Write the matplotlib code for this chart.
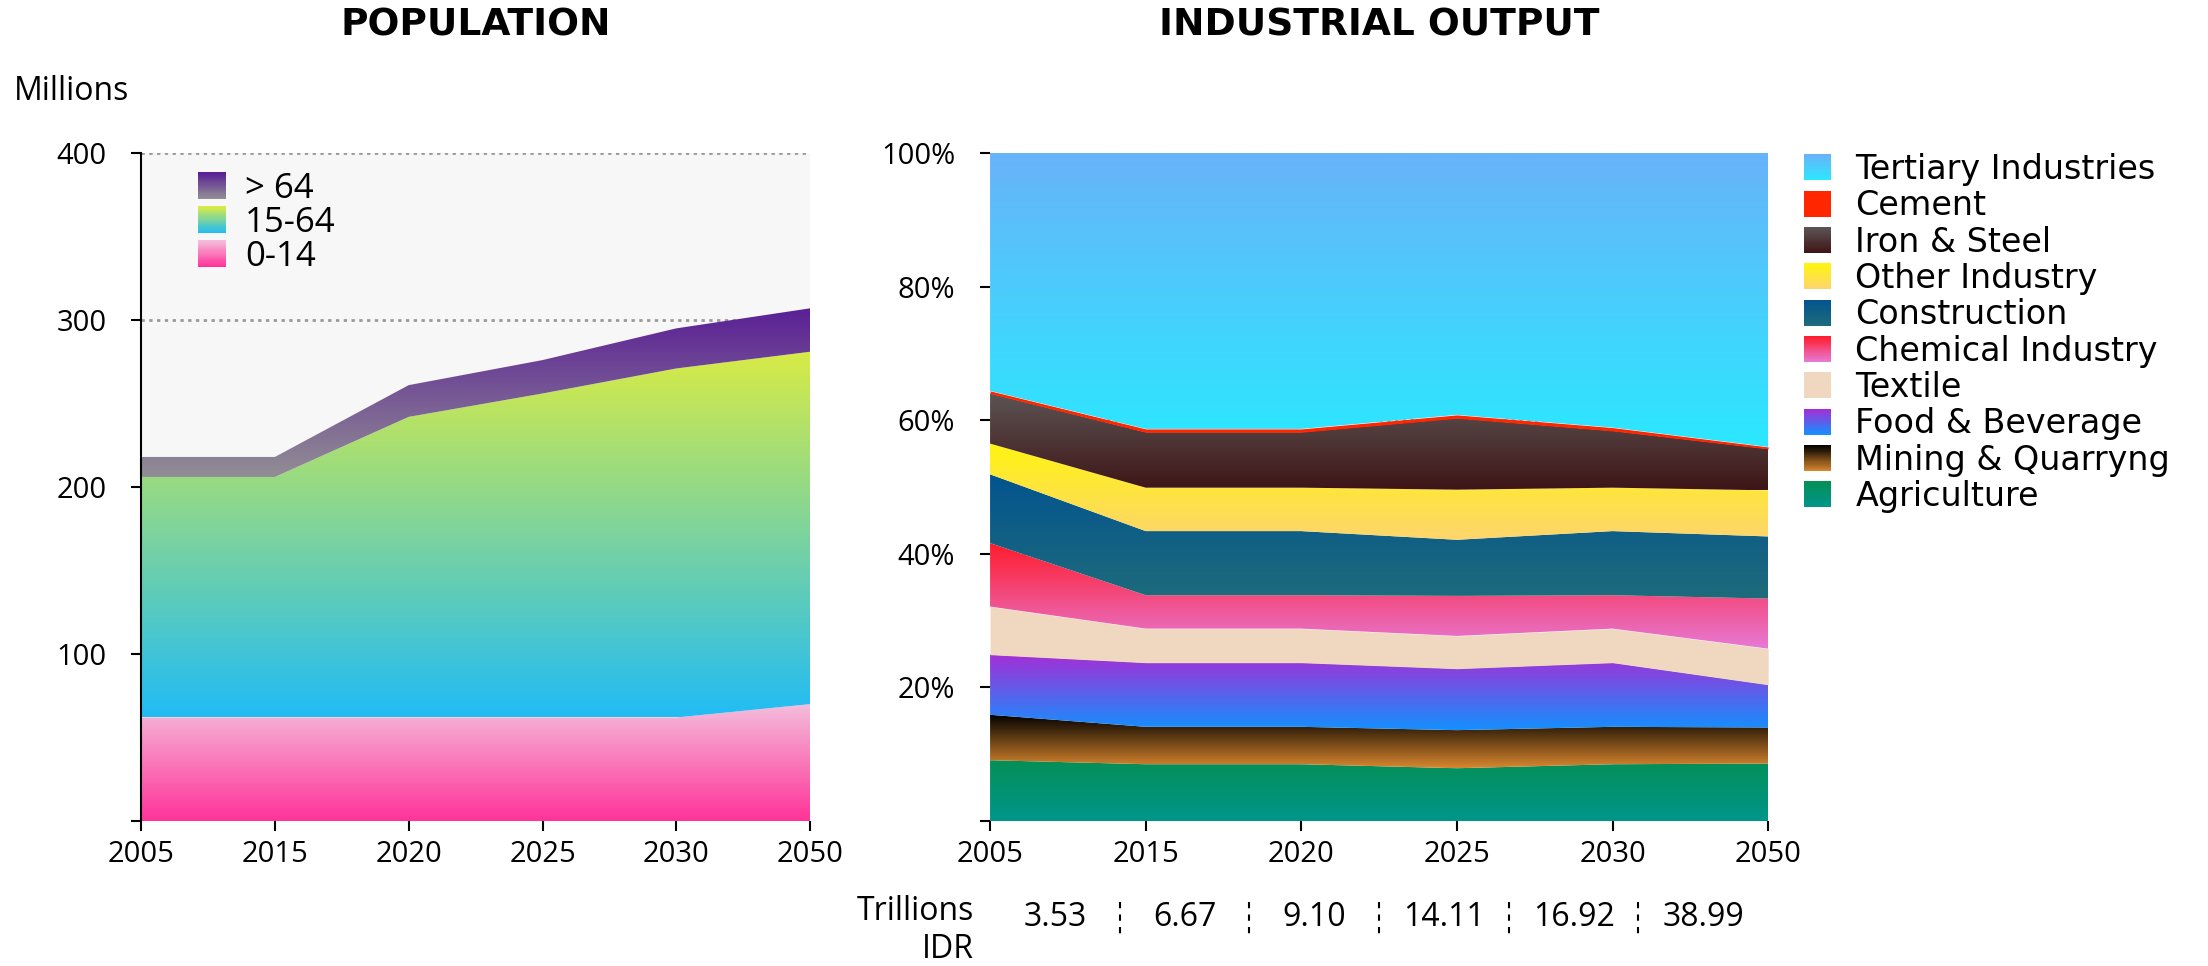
import numpy as np
import matplotlib.pyplot as plt
from matplotlib.colors import LinearSegmentedColormap
from matplotlib.legend_handler import HandlerBase
from matplotlib.patches import Patch, Rectangle

plt.rcParams['font.family'] = ['Open Sans', 'DejaVu Sans']
WIDE = ['DejaVu Sans']

# --- data ---
years = ['2005', '2015', '2020', '2025', '2030', '2050']

# population, millions
pop_0_14 = [62, 62, 62, 62, 62, 70]
pop_15_64 = [144, 144, 180, 194, 209, 211]
pop_65 = [12, 12, 19, 20, 24, 26]

# industrial output shares, % (stacked bottom -> top)
agriculture = [9.1, 8.5, 8.5, 7.9, 8.5, 8.6]
mining = [6.8, 5.6, 5.6, 5.7, 5.6, 5.4]
food = [9.0, 9.6, 9.6, 9.2, 9.6, 6.4]
textile = [7.2, 5.1, 5.1, 4.9, 5.1, 5.4]
chemical = [9.5, 5.0, 5.0, 6.0, 5.0, 7.5]
construction = [10.3, 9.6, 9.6, 8.4, 9.6, 9.3]
other_industry = [4.6, 6.5, 6.5, 7.5, 6.5, 6.9]
iron_steel = [7.5, 8.3, 8.3, 10.7, 8.5, 6.2]
cement = [0.4, 0.5, 0.5, 0.5, 0.5, 0.3]
tertiary = [35.6, 41.3, 41.3, 39.2, 41.1, 44.0]

idr_values = ['3.53', '6.67', '9.10', '14.11', '16.92', '38.99']


class GradientHandler(HandlerBase):
    def __init__(self, top, bottom, steps=24):
        super().__init__()
        self.cmap = LinearSegmentedColormap.from_list('g', [bottom, top])
        self.steps = steps

    def create_artists(self, legend, orig_handle, xdescent, ydescent,
                       width, height, fontsize, trans):
        h = height / self.steps
        out = []
        for i in range(self.steps):
            out.append(Rectangle((-xdescent, -ydescent + i * h), width, h * 1.05,
                                 facecolor=self.cmap(i / (self.steps - 1)),
                                 edgecolor='none', transform=trans))
        return out


def gradient_fill(ax, x, lower, upper, top, bottom, z=2):
    poly = ax.fill_between(x, lower, upper, facecolor='none', edgecolor='none')
    cmap = LinearSegmentedColormap.from_list('g', [bottom, top])
    grad = np.linspace(1, 0, 256).reshape(-1, 1)
    im = ax.imshow(grad, cmap=cmap, aspect='auto', origin='upper',
                   extent=[x[0], x[-1], lower.min(), upper.max()],
                   zorder=z, interpolation='bilinear')
    im.set_clip_path(poly.get_paths()[0], transform=ax.transData)


def style_axis(ax):
    for s in ['top', 'right', 'bottom']:
        ax.spines[s].set_visible(False)
    ax.spines['left'].set_linewidth(1.5)
    ax.tick_params(axis='both', length=7, width=1.5, labelsize=21, color='black')
    ax.tick_params(axis='y', pad=18)
    ax.tick_params(axis='x', pad=7)
    ax.set_axisbelow(True)
    ax.grid(axis='y', color='#9a9a9a', linestyle=(0, (1.2, 1.6)), linewidth=2)


fig = plt.figure(figsize=(22.08, 9.66), dpi=100)
ax1 = fig.add_axes([0.0639, 0.1501, 0.3030, 0.6915])
ax2 = fig.add_axes([0.4484, 0.1501, 0.3524, 0.6915])

x = np.arange(len(years))

# --- population ---
lo = np.zeros(len(years))
pop_layers = [
    ('0-14', pop_0_14, '#f4bddb', '#ff3399'),
    ('15-64', pop_15_64, '#d8eb45', '#21bcf5'),
    ('> 64', pop_65, '#5a1f96', '#928e94'),
]
handles1 = []
hmap1 = {}
for name, vals, top, bottom in pop_layers:
    hi = lo + np.array(vals)
    gradient_fill(ax1, x, lo, hi, top, bottom)
    p = Patch(label=name)
    handles1.append(p)
    hmap1[p] = GradientHandler(top, bottom)
    lo = hi

ax1.set_facecolor('#f7f7f7')
ax1.set_xlim(0, 5)
ax1.set_ylim(0, 400)
ax1.set_xticks(x)
ax1.set_xticklabels(years)
ax1.set_yticks([0, 100, 200, 300, 400])
ax1.set_yticklabels(['', '100', '200', '300', '400'])
style_axis(ax1)
ax1.legend(handles=handles1[::-1], handler_map=hmap1, loc='upper left',
           bbox_to_anchor=(0.085, 0.972), frameon=False, fontsize=25,
           handlelength=0.8, handleheight=0.8, handletextpad=0.55,
           labelspacing=0.0, borderpad=0, borderaxespad=0)

# --- industrial output ---
ind_layers = [
    ('Agriculture', agriculture, '#058f57', '#00968a'),
    ('Mining & Quarryng', mining, '#000000', '#d8862e'),
    ('Food & Beverage', food, '#a52ed6', '#1490ff'),
    ('Textile', textile, '#efd8bf', '#efd8bf'),
    ('Chemical Industry', chemical, '#ff1c2c', '#e67ad6'),
    ('Construction', construction, '#03548f', '#1e6b7b'),
    ('Other Industry', other_industry, '#fff410', '#fdd56e'),
    ('Iron & Steel', iron_steel, '#5c5454', '#3f1516'),
    ('Cement', cement, '#ff2600', '#ff2600'),
    ('Tertiary Industries', tertiary, '#68b3f9', '#2be8ff'),
]
lo = np.zeros(len(years))
handles2 = []
hmap2 = {}
for name, vals, top, bottom in ind_layers:
    hi = lo + np.array(vals)
    if top == bottom:
        ax2.fill_between(x, lo, hi, color=top, linewidth=0, zorder=2)
    else:
        gradient_fill(ax2, x, lo, hi, top, bottom)
    p = Patch(label=name)
    handles2.append(p)
    hmap2[p] = GradientHandler(top, bottom)
    lo = hi

ax2.set_xlim(0, 5)
ax2.set_ylim(0, 100)
ax2.set_xticks(x)
ax2.set_xticklabels(years)
ax2.set_yticks([0, 20, 40, 60, 80, 100])
ax2.set_yticklabels(['', '20%', '40%', '60%', '80%', '100%'])
style_axis(ax2)
ax2.spines['left'].set_visible(False)
ax2.legend(handles=handles2[::-1], handler_map=hmap2, loc='upper left',
           bbox_to_anchor=(1.046, 1.0), frameon=False,
           prop={'family': WIDE, 'size': 24},
           handlelength=0.82, handleheight=0.82, handletextpad=0.72,
           labelspacing=0.1, borderpad=0, borderaxespad=0)

# output values row under the chart
for i, v in enumerate(idr_values):
    ax2.text((i + 0.5) / 6, -0.145, v, transform=ax2.transAxes,
             ha='center', va='center', fontsize=23)
for k in range(1, 6):
    ax2.plot([k / 6, k / 6], [-0.121, -0.175], transform=ax2.transAxes,
             clip_on=False, color='black', lw=1.5, linestyle=(0, (3, 3)))
fig.text(974 / 2208, 1 - 931 / 966, 'Trillions\nIDR', ha='right', va='center',
         multialignment='right', fontsize=23, linespacing=1.2)

fig.text(0.2154, 0.974, 'POPULATION', ha='center', va='center',
         fontsize=27, fontweight='bold', family=WIDE)
fig.text(0.6246, 0.974, 'INDUSTRIAL OUTPUT', ha='center', va='center',
         fontsize=27, fontweight='bold', family=WIDE)
fig.text(14 / 2208, 1 - 91 / 966, 'Millions', ha='left', va='center', fontsize=23)

fig.savefig('out.png', dpi=100)
